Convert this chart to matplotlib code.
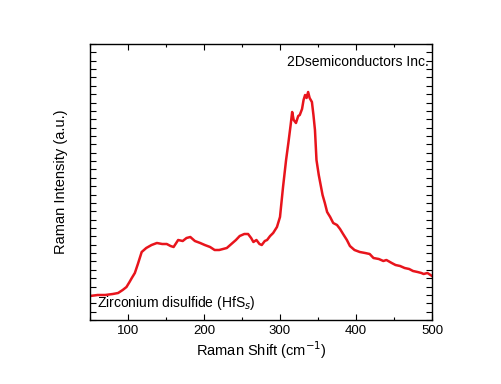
import numpy as np
import matplotlib
matplotlib.use("Agg")
import matplotlib.pyplot as plt
from matplotlib.ticker import MultipleLocator

plt.rcParams['font.family'] = ['Liberation Sans', 'DejaVu Sans']

# Raman shift (cm-1) and intensity (a.u.)
shift = [50, 60, 70, 80, 87, 93, 98, 102, 105, 109, 113, 118, 124, 131, 138, 145,
         151, 156, 160, 166, 172, 177, 182, 188, 195, 201, 208, 214, 220, 225,
         230, 236, 242, 247, 253, 258, 262, 265, 269, 273, 276, 280, 283, 287,
         291, 296, 300, 304, 308, 311, 314, 316, 318, 321, 324, 326, 329, 331,
         333, 335, 337, 339, 342, 344, 346, 348, 351, 353, 356, 359, 362, 366,
         370, 375, 379, 383, 388, 392, 398, 405, 412, 418, 423, 430, 436, 440,
         447, 452, 458, 464, 470, 475, 481, 486, 489, 494, 498, 500]
intensity = [24, 25, 25, 26, 27, 30, 33, 38, 42, 47, 56, 68, 72, 75, 77, 76,
             76, 74, 73, 80, 79, 82, 83, 79, 77, 75, 73, 70, 70, 71, 72, 76,
             80, 84, 86, 86, 82, 78, 80, 76, 75, 79, 80, 84, 87, 93, 103, 133,
             160, 177, 195, 208, 200, 197, 204, 205, 211, 220, 225, 222, 228, 222,
             218, 205, 190, 160, 145, 137, 125, 117, 108, 103, 97, 95, 91, 86,
             80, 74, 70, 68, 67, 66, 62, 61, 59, 60, 57, 55, 54, 52, 51, 49,
             48, 47, 46, 47, 45, 44]

fig = plt.figure(figsize=(5.01, 3.84), dpi=100)
ax = fig.add_axes([90 / 501, 64 / 384, 342 / 501, 276 / 384])

ax.plot(shift, intensity, color='#e8141c', linewidth=1.8)

ax.set_xlim(50, 500)
ax.set_ylim(0, 276)
ax.xaxis.set_major_locator(MultipleLocator(100))
ax.xaxis.set_minor_locator(MultipleLocator(50))
ax.set_yticks(np.linspace(0, 276, 34))
ax.set_yticklabels([])
ax.tick_params(which='both', direction='in', top=True, right=True, labelsize=9.5)
ax.tick_params(which='major', length=4, width=0.8)
ax.tick_params(which='minor', length=2.5, width=0.8)
for s in ax.spines.values():
    s.set_linewidth(1.0)

ax.set_xlabel('Raman Shift (cm$^{-1}$)', fontsize=10.5, labelpad=2)
ax.set_ylabel('Raman Intensity (a.u.)', fontsize=10.5, labelpad=12)

ax.text(0.99, 0.935, '2Dsemiconductors Inc.', transform=ax.transAxes,
        ha='right', va='center', fontsize=10)
ax.text(0.02, 0.06, 'Zirconium disulfide (HfS$_s$)', transform=ax.transAxes,
        ha='left', va='center', fontsize=10)

fig.savefig('out.png', dpi=100)
